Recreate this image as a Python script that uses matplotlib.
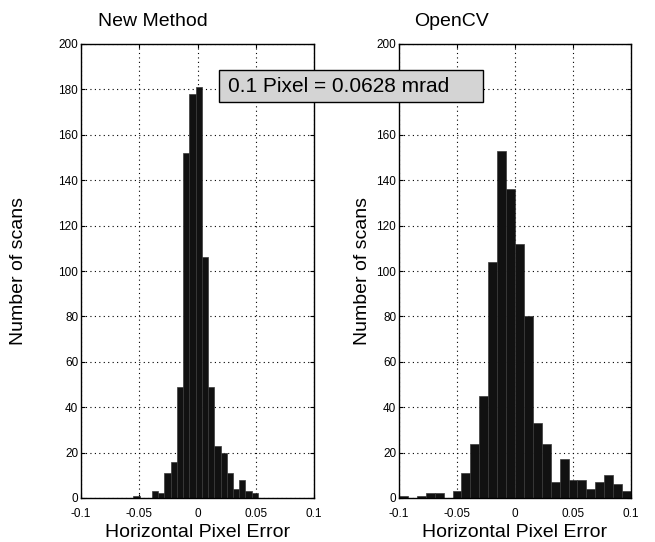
import numpy as np
import matplotlib
matplotlib.use('Agg')
import matplotlib.pyplot as plt
from matplotlib.patches import Rectangle

plt.rcParams['font.family'] = ['Liberation Sans', 'DejaVu Sans']
plt.rcParams['axes.unicode_minus'] = False

# Histogram counts
new_edges = np.linspace(-0.0551, 0.0519, 21)
new_counts = [1, 0, 0, 3, 2, 11, 16, 49, 152, 178, 181, 106, 49, 23, 20, 11, 4, 8, 3, 2]

cv_edges = np.linspace(-0.1, 0.1, 27)
cv_counts = [1, 0, 1, 2, 2, 0, 3, 11, 24, 45, 104, 153, 136, 112, 80, 33, 24, 7, 17, 8, 8, 4, 7, 10, 6, 3]

titles = ['New Method', 'OpenCV']
xticks = [-0.1, -0.05, 0, 0.05, 0.1]
xtick_labels = ['-0.1', '-0.05', '0', '0.05', '0.1']
yticks = np.arange(0, 201, 20)

W, H = 655, 542
fig = plt.figure(figsize=(W / 100, H / 100), dpi=100)

def px(x0, y0, x1, y1):
    return [x0 / W, 1 - y1 / H, (x1 - x0) / W, (y1 - y0) / H]

ax1 = fig.add_axes(px(81, 44, 314, 498))
ax2 = fig.add_axes(px(399, 44, 631, 498))

for ax, edges, counts in [(ax1, new_edges, new_counts), (ax2, cv_edges, cv_counts)]:
    ax.bar(edges[:-1], counts, width=np.diff(edges), align='edge',
           color='#111111', edgecolor='#3a3a3a', linewidth=0.5, zorder=2)
    ax.set_xlim(-0.1, 0.1)
    ax.set_ylim(0, 200)
    ax.set_xticks(xticks)
    ax.set_xticklabels(xtick_labels)
    ax.set_yticks(yticks)
    ax.tick_params(direction='in', length=3, labelsize=8.5, top=True, right=True, pad=2)
    ax.tick_params(axis='x', pad=7)
    ax.grid(True, color='black', linestyle=(0, (1, 3)), linewidth=0.8, zorder=1)
    ax.set_axisbelow(True)
    for s in ax.spines.values():
        s.set_linewidth(1.0)
    ax.set_xlabel('Horizontal Pixel Error', fontsize=14, labelpad=3)
    ax.set_ylabel('Number of scans', fontsize=14)

ax1.yaxis.set_label_coords(-0.23, 0.5)
ax2.yaxis.set_label_coords(-0.12, 0.5)

fig.text(98 / W, 1 - 22 / H, titles[0], fontsize=14, ha='left', va='center')
fig.text(414 / W, 1 - 22 / H, titles[1], fontsize=14, ha='left', va='center')

# annotation box
fig.patches.append(Rectangle((219 / W, 1 - 102 / H), 264 / W, 32 / H,
                             transform=fig.transFigure, facecolor='#d4d4d4',
                             edgecolor='black', linewidth=1.0, zorder=5))
fig.text(228 / W, 1 - 87 / H, '0.1 Pixel = 0.0628 mrad', fontsize=15,
         ha='left', va='center', zorder=6)

fig.savefig('out.png', dpi=100)
